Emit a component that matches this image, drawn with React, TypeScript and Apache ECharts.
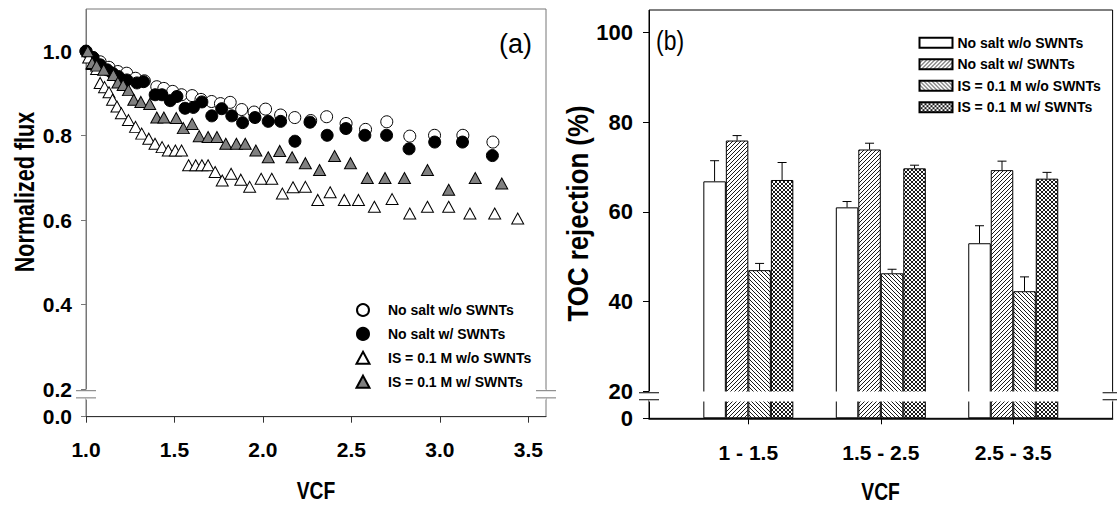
import React, { useEffect, useRef } from 'react';
import * as echarts from 'echarts';

// ---------- Panel (a): normalized flux vs VCF ----------
const seriesNames = ['No salt w/o SWNTs', 'No salt w/ SWNTs', 'IS = 0.1 M w/o SWNTs', 'IS = 0.1 M w/ SWNTs'];

const openCircle: number[][] = [
  [1.0, 1.0], [1.04, 0.985], [1.08, 0.975], [1.13, 0.962], [1.18, 0.952], [1.23, 0.948], [1.28, 0.936],
  [1.33, 0.93], [1.4, 0.916], [1.44, 0.912], [1.49, 0.905], [1.54, 0.897], [1.6, 0.895], [1.65, 0.886],
  [1.71, 0.881], [1.76, 0.876], [1.815, 0.879], [1.88, 0.862], [1.95, 0.856], [2.015, 0.863], [2.1, 0.849],
  [2.18, 0.843], [2.27, 0.836], [2.36, 0.845], [2.47, 0.829], [2.58, 0.815], [2.7, 0.833], [2.83, 0.799],
  [2.97, 0.801], [3.13, 0.801], [3.3, 0.785],
];
const filledCircle: number[][] = [
  [1.0, 1.0], [1.04, 0.985], [1.08, 0.968], [1.12, 0.956], [1.15, 0.948], [1.184, 0.94], [1.231, 0.932],
  [1.288, 0.925], [1.325, 0.928], [1.391, 0.897], [1.429, 0.897], [1.476, 0.883], [1.514, 0.893], [1.56, 0.865],
  [1.607, 0.867], [1.655, 0.88], [1.711, 0.847], [1.767, 0.864], [1.824, 0.847], [1.885, 0.831], [1.955, 0.843],
  [2.03, 0.834], [2.1, 0.834], [2.181, 0.787], [2.266, 0.832], [2.363, 0.801], [2.469, 0.817], [2.576, 0.801],
  [2.699, 0.801], [2.826, 0.769], [2.971, 0.785], [3.128, 0.785], [3.297, 0.753],
];
const openTriangle: number[][] = [
  [1.015, 0.985], [1.035, 0.97], [1.06, 0.958], [1.08, 0.925], [1.105, 0.915], [1.13, 0.903], [1.15, 0.885],
  [1.175, 0.869], [1.2, 0.853], [1.24, 0.837], [1.28, 0.821], [1.315, 0.805], [1.355, 0.793], [1.39, 0.781],
  [1.43, 0.773], [1.465, 0.765], [1.505, 0.765], [1.54, 0.765], [1.58, 0.73], [1.62, 0.73], [1.655, 0.73],
  [1.69, 0.73], [1.73, 0.714], [1.77, 0.694], [1.82, 0.71], [1.875, 0.696], [1.925, 0.679], [1.99, 0.698],
  [2.05, 0.698], [2.11, 0.663], [2.17, 0.678], [2.24, 0.679], [2.31, 0.648], [2.38, 0.666], [2.46, 0.648],
  [2.54, 0.648], [2.63, 0.632], [2.73, 0.65], [2.83, 0.616], [2.93, 0.632], [3.05, 0.632], [3.17, 0.616],
  [3.31, 0.616], [3.44, 0.604],
];
const grayTriangle: number[][] = [
  [1.01, 1.0], [1.035, 0.972], [1.06, 0.966], [1.1, 0.956], [1.155, 0.944], [1.18, 0.926], [1.21, 0.92],
  [1.24, 0.908], [1.27, 0.885], [1.31, 0.88], [1.36, 0.875], [1.4, 0.843], [1.44, 0.843], [1.51, 0.842],
  [1.55, 0.818], [1.6, 0.828], [1.64, 0.799], [1.69, 0.797], [1.74, 0.797], [1.79, 0.781], [1.85, 0.781],
  [1.9, 0.781], [1.96, 0.765], [2.03, 0.749], [2.095, 0.764], [2.165, 0.749], [2.24, 0.735], [2.32, 0.719],
  [2.405, 0.752], [2.495, 0.735], [2.59, 0.7], [2.69, 0.7], [2.8, 0.7], [2.93, 0.719], [3.05, 0.672],
  [3.2, 0.7], [3.35, 0.687],
];
const fluxXTicks = [1.0, 1.5, 2.0, 2.5, 3.0, 3.5];
const fluxYTicks = [0, 0.2, 0.4, 0.6, 0.8, 1.0];
const fluxBreak = [0.041, 0.2];

// ---------- Panel (b): TOC rejection ----------
const vcfGroups = ['1 - 1.5', '1.5 - 2.5', '2.5 - 3.5'];
const groupPos = [1, 2, 3];
const tocNoSaltWo = [66.8, 61.0, 53.0];
const tocNoSaltW = [75.9, 73.9, 69.3];
const tocIsWo = [47.0, 46.3, 42.3];
const tocIsW = [67.1, 69.7, 67.4];
const errNoSaltWo = [4.6, 1.3, 3.9];
const errNoSaltW = [1.1, 1.4, 2.0];
const errIsWo = [1.5, 0.9, 3.2];
const errIsW = [3.9, 0.7, 1.4];
const tocYTicks = [0, 20, 40, 60, 80, 100];
const tocBreak = [3.8, 20];

const SANS = "'Liberation Sans', Arial, sans-serif";

const tile = (d: string) =>
  'data:image/svg+xml;charset=utf-8,' +
  encodeURIComponent(
    `<svg xmlns="http://www.w3.org/2000/svg" width="4" height="4"><rect width="4" height="4" fill="#fff"/><path d="${d}" stroke="#000" stroke-width="0.9" fill="none"/></svg>`
  );
const pattern = (d: string) => ({ image: tile(d), repeat: 'repeat', imageWidth: 4, imageHeight: 4 });
const FWD = 'M0,4 L4,0 M-1,1 L1,-1 M3,5 L5,3';
const BWD = 'M0,0 L4,4 M-1,3 L1,5 M3,-1 L5,1';
const barFills: any[] = ['#fff', pattern(FWD), pattern(BWD), pattern(FWD + ' ' + BWD)];
const BAR_W = 22.5;

function optionA(): any {
  const axisGray = '#777';
  const mk = (name: string, data: number[][], symbol: string, size: any, fill: string) => ({
    name,
    type: 'scatter',
    data,
    symbol,
    symbolSize: size,
    itemStyle: { color: fill, borderColor: '#000', borderWidth: 1, opacity: 1 },
    emphasis: { disabled: true },
  });
  return {
    animation: false,
    textStyle: { fontFamily: SANS },
    grid: { left: 86, top: 9, width: 460, height: 407.7, show: true, borderColor: axisGray, borderWidth: 1 },
    xAxis: {
      type: 'value',
      min: 1,
      max: 3.6,
      interval: 0.5,
      axisLine: { show: true, onZero: false, lineStyle: { color: '#333', width: 1 } },
      axisTick: { show: true, customValues: fluxXTicks, length: 6, lineStyle: { color: '#333' } },
      axisLabel: {
        customValues: fluxXTicks,
        formatter: (v: number) => v.toFixed(1),
        margin: 22,
        fontFamily: SANS,
        fontWeight: 'bold',
        fontSize: 21,
        color: '#000',
      },
      splitLine: { show: false },
    },
    yAxis: {
      type: 'value',
      min: 0,
      max: 1.1,
      breaks: [{ start: fluxBreak[0], end: fluxBreak[1], gap: '2.5%' }],
      breakArea: {
        show: true,
        itemStyle: { color: '#fff', borderColor: '#fff', borderWidth: 0, opacity: 1 },
        zigzagAmplitude: 0,
        expandOnClick: false,
      },
      axisLine: { show: true, lineStyle: { color: axisGray, width: 1 } },
      axisTick: { show: true, customValues: fluxYTicks, length: 5, lineStyle: { color: axisGray } },
      axisLabel: {
        customValues: fluxYTicks,
        formatter: (v: number) => v.toFixed(1),
        margin: 14,
        fontFamily: SANS,
        fontWeight: 'bold',
        fontSize: 21,
        color: '#000',
      },
      splitLine: { show: false },
    },
    legend: {
      orient: 'vertical',
      left: 350.5,
      top: 296,
      itemWidth: 13,
      itemHeight: 12,
      itemGap: 5.9,
      selectedMode: false,
      data: seriesNames,
      textStyle: {
        fontFamily: SANS,
        fontWeight: 'bold',
        fontSize: 14,
        color: '#000',
        lineHeight: 18,
        padding: [0, 0, 0, 13.5],
      },
    },
    series: [
      mk(seriesNames[0], openCircle, 'circle', 12, '#fff'),
      mk(seriesNames[1], filledCircle, 'circle', 12, '#000'),
      mk(seriesNames[2], openTriangle, 'triangle', [12, 11], '#fff'),
      mk(seriesNames[3], grayTriangle, 'triangle', [12, 11], '#808080'),
    ],
  };
}

function optionB(): any {
  const vals = [tocNoSaltWo, tocNoSaltW, tocIsWo, tocIsW];
  const errs = [errNoSaltWo, errNoSaltW, errIsWo, errIsW];
  const bars = vals.map((v, k) => ({
    name: seriesNames[k],
    type: 'bar',
    data: groupPos.map((p, i) => [p, v[i]]),
    barWidth: BAR_W,
    barGap: '0%',
    itemStyle: { color: barFills[k], borderColor: '#000', borderWidth: 1 },
    emphasis: { disabled: true },
  }));
  const errBars = vals.map((v, k) => ({
    type: 'custom',
    silent: true,
    z: 5,
    data: groupPos.map((p, i) => [p, v[i], v[i] + errs[k][i]]),
    renderItem: (_params: any, api: any) => {
      const off = (k - 1.5) * BAR_W;
      const a = api.coord([api.value(0), api.value(1)]);
      const b = api.coord([api.value(0), api.value(2)]);
      const x = a[0] + off;
      return {
        type: 'group',
        children: [
          { type: 'line', shape: { x1: x, y1: a[1], x2: x, y2: b[1] }, style: { stroke: '#000', lineWidth: 1 } },
          { type: 'line', shape: { x1: x - 4.5, y1: b[1], x2: x + 4.5, y2: b[1] }, style: { stroke: '#000', lineWidth: 1 } },
        ],
      };
    },
  }));
  return {
    animation: false,
    textStyle: { fontFamily: SANS },
    grid: { left: 91, top: 10, width: 463.6, height: 408.3, show: true, borderColor: '#000', borderWidth: 1 },
    xAxis: {
      type: 'value',
      min: 0.25,
      max: 3.75,
      axisLine: { show: true, onZero: false, lineStyle: { color: '#000', width: 1.5 } },
      axisTick: { show: true, customValues: groupPos, length: 6, lineStyle: { color: '#000' } },
      axisLabel: {
        customValues: groupPos,
        formatter: (v: number) => vcfGroups[groupPos.indexOf(Math.round(v))] || '',
        margin: 24,
        fontFamily: SANS,
        fontWeight: 'bold',
        fontSize: 21,
        color: '#000',
      },
      splitLine: { show: false },
    },
    yAxis: {
      type: 'value',
      min: 0,
      max: 105,
      breaks: [{ start: tocBreak[0], end: tocBreak[1], gap: '2.45%' }],
      breakArea: {
        show: true,
        itemStyle: { color: '#fff', borderColor: '#fff', borderWidth: 0, opacity: 1 },
        zigzagAmplitude: 0,
        expandOnClick: false,
      },
      axisLine: { show: true, lineStyle: { color: '#000', width: 1 } },
      axisTick: { show: true, customValues: tocYTicks, length: 6, lineStyle: { color: '#000' } },
      axisLabel: {
        customValues: tocYTicks,
        margin: 16,
        fontFamily: SANS,
        fontWeight: 'bold',
        fontSize: 22,
        color: '#000',
      },
      splitLine: { show: false },
    },
    legend: {
      orient: 'vertical',
      left: 355.5,
      top: 27.7,
      icon: 'rect',
      itemWidth: 33,
      itemHeight: 10,
      itemGap: 1.5,
      selectedMode: false,
      data: seriesNames,
      textStyle: { fontFamily: SANS, fontWeight: 'bold', fontSize: 14, color: '#000', lineHeight: 20 },
    },
    series: [...bars, ...errBars],
  };
}

function breakMarks(chart: any, hi: number, lo: number, xs: number[], color: string): any[] {
  const pHi = chart.convertToPixel({ yAxisIndex: 0 }, hi) as number;
  const pLo = chart.convertToPixel({ yAxisIndex: 0 }, lo) as number;
  const els: any[] = [];
  xs.forEach((x) => {
    els.push({ type: 'rect', z: 200, shape: { x: x - 3, y: pHi + 1, width: 6, height: Math.max(0, pLo - pHi - 2) }, style: { fill: '#fff' } });
    els.push({ type: 'line', z: 201, shape: { x1: x - 10, y1: pHi + 1.5, x2: x + 10, y2: pHi + 1.5 }, style: { stroke: color, lineWidth: 1 } });
    els.push({ type: 'line', z: 201, shape: { x1: x - 10, y1: pLo - 1.5, x2: x + 10, y2: pLo - 1.5 }, style: { stroke: color, lineWidth: 1 } });
  });
  return els;
}

const txt = (text: string, x: number, y: number, font: any, rotation = 0, align = 'center', scaleX = 1) => ({
  type: 'text',
  x,
  y,
  rotation,
  scaleX,
  z: 100,
  style: { text, fill: '#000', align, verticalAlign: 'middle', ...font },
});

export default function App() {
  const refA = useRef<HTMLDivElement>(null);
  const refB = useRef<HTMLDivElement>(null);
  useEffect(() => {
    const a = echarts.init(refA.current as HTMLDivElement, null, { renderer: 'svg' });
    const b = echarts.init(refB.current as HTMLDivElement, null, { renderer: 'svg' });
    a.setOption(optionA());
    b.setOption(optionB());
    const bold = (size: number) => ({ fontFamily: SANS, fontWeight: 'bold', fontSize: size });
    a.setOption({
      graphic: [
        txt('Normalized flux', 24, 192, bold(28), Math.PI / 2, 'center', 0.77),
        txt('VCF', 316, 491, bold(23), 0, 'center', 0.84),
        txt('(a)', 532, 44, { fontFamily: SANS, fontSize: 27 }, 0, 'right'),
        ...breakMarks(a, fluxBreak[1], fluxBreak[0], [86, 546], '#777'),
      ],
    });
    b.setOption({
      graphic: [
        txt('TOC rejection (%)', 20, 213.5, bold(29), Math.PI / 2, 'center', 0.89),
        txt('VCF', 322.6, 492, bold(23), 0, 'center', 0.84),
        txt('(b)', 98, 40, { fontFamily: SANS, fontSize: 27 }, 0, 'left', 0.85),
        ...breakMarks(b, tocBreak[1], tocBreak[0], [91, 554.6], '#000'),
      ],
    });
    return () => {
      a.dispose();
      b.dispose();
    };
  }, []);
  return (
    <div style={{ position: 'fixed', left: 0, top: 0, width: 1117, height: 506, background: '#fff' }}>
      <div ref={refA} style={{ position: 'absolute', left: 0, top: 0, width: 558, height: 506 }} />
      <div ref={refB} style={{ position: 'absolute', left: 558, top: 0, width: 559, height: 506 }} />
    </div>
  );
}
